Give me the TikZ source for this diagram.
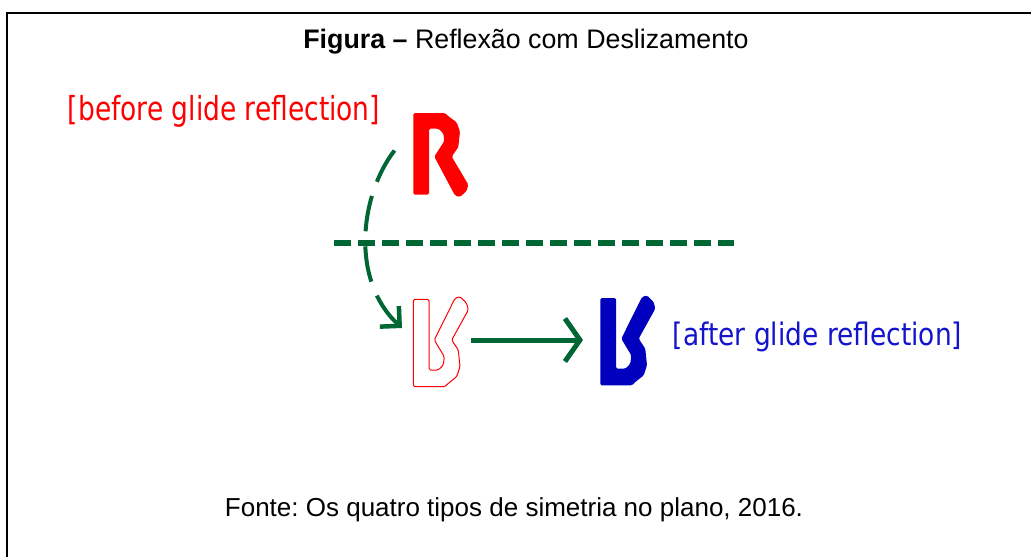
\documentclass[tikz,border=0pt]{standalone}
\usepackage{fontspec}
\usepackage{graphicx}
\setmainfont{Liberation Sans}
\newfontfamily\labelfont{DejaVu Sans}
\usetikzlibrary{arrows.meta}
\frenchspacing
\definecolor{glgreen}{RGB}{0,102,51}
\definecolor{glred}{RGB}{255,0,0}
\definecolor{glblue}{RGB}{0,0,190}
\definecolor{lblblue}{RGB}{20,20,205}
\tikzset{
  glyph/.pic={\path[pic actions, rounded corners=1.5pt]
    (0,2.6) -- (15.7,2.6) -- (15.7,73.3) -- (25,73.3) -- (30,68.3) -- (31,60)
    -- (21,43.3) -- (41.7,1.6) -- (46.7,0) -- (53.4,6.6) -- (55,13.3)
    -- (38.4,43.3) -- (45,53.3) -- (46.7,70) -- (43.4,80) -- (35,86.6)
    -- (31.7,90) -- (0,90) -- cycle;},
  lbl/.style={inner sep=0pt, font=\labelfont},
  captxt/.style={inner sep=0pt, font=\fontsize{26}{30}\selectfont, anchor=base},
  gline/.style={draw=glgreen},
}
\begin{document}
\begin{tikzpicture}[x=1pt,y=-1pt]
\useasboundingbox (0,0) rectangle (1031,557);
\fill[white] (0,0) rectangle (1031,557);
\draw[line width=2pt] (1031,12.7) -- (7.3,12.7) -- (7.3,557);

\node[captxt, font=\fontsize{26.8}{30}\selectfont] (title) at (526,48.5) {\textbf{Figura –} Reflexão com Deslizamento};
\node[captxt] (fonte) at (514,516) {Fonte: Os quatro tipos de simetria no plano, 2016.};

\node[lbl, text=glred] (before) at (224,111) {\resizebox*{312pt}{32pt}{[before glide reflection]}};
\node[lbl, text=lblblue] (after) at (817.5,337) {\resizebox*{289pt}{30pt}{[after glide reflection]}};

\pic[fill=glred, yscale=-0.933] (rtop) at (413.3,197) {glyph};
\pic[draw=glred, line width=1pt] (rout) at (413.3,296.7) {glyph};
\pic[fill=glblue] (rblue) at (600.3,295.4) {glyph};

\coordinate (hl) at (334,243);
\coordinate (hr) at (734,243);
\draw[gline, line width=6pt, dash pattern=on 16.6pt off 7.4pt] (hl) -- (hr);

\coordinate (cs) at (394.5,150.5);
\coordinate (ce) at (402,328);
\draw[gline, line width=4pt, dash pattern=on 36pt off 15pt,
  -{Straight Barb[length=14pt,width=28pt,line width=4.5pt]}]
  (cs) .. controls (360,195) and (350,280) .. (ce);

\coordinate (ha) at (471,340);
\coordinate (hb) at (583,340);
\draw[gline, line width=5pt, -{Straight Barb[length=15pt,width=43pt,line width=5pt]}] (ha) -- (hb);
\end{tikzpicture}
\end{document}
